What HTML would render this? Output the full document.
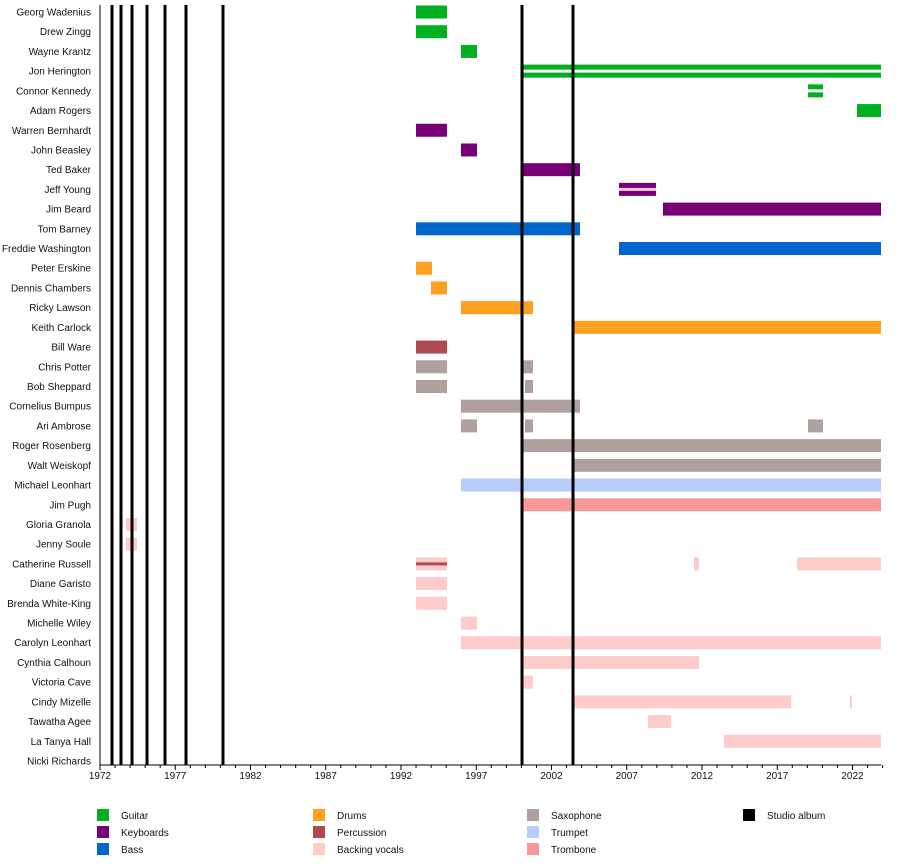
<!DOCTYPE html>
<html><head><meta charset="utf-8"><style>body{margin:0;background:#fff}svg{display:block}text{font-family:"Liberation Sans",sans-serif;font-size:10px;fill:#111}</style></head><body>
<svg width="900" height="865" viewBox="0 0 900 865" xmlns="http://www.w3.org/2000/svg">
<g id="names" text-anchor="end"></g>
<g id="bars"></g>
<g id="lines"></g>
<g id="axis"></g>
<g id="legend"></g>
<script>
var NS="http://www.w3.org/2000/svg";
function el(p,t,a,txt){var e=document.createElementNS(NS,t);for(var k in a)e.setAttribute(k,a[k]);if(txt!=null)e.textContent=txt;document.getElementById(p).appendChild(e);return e;}
var names=["Georg Wadenius","Drew Zingg","Wayne Krantz","Jon Herington","Connor Kennedy","Adam Rogers","Warren Bernhardt","John Beasley","Ted Baker","Jeff Young","Jim Beard","Tom Barney","Freddie Washington","Peter Erskine","Dennis Chambers","Ricky Lawson","Keith Carlock","Bill Ware","Chris Potter","Bob Sheppard","Cornelius Bumpus","Ari Ambrose","Roger Rosenberg","Walt Weiskopf","Michael Leonhart","Jim Pugh","Gloria Granola","Jenny Soule","Catherine Russell","Diane Garisto","Brenda White-King","Michelle Wiley","Carolyn Leonhart","Cynthia Calhoun","Victoria Cave","Cindy Mizelle","Tawatha Agee","La Tanya Hall","Nicki Richards"];
function cy(i){return 12+i*19.71;}
names.forEach(function(n,i){el("names","text",{x:91,y:cy(i)+3.5},n);});
var G="#00b020",K="#770077",B="#0066cc",D="#ffa020",P="#b04850",S="#b0a0a0",T="#b8ccff",TR="#f89898",V="#ffcccc";
var bars=[[0,416,447,G],[1,416,447,G],[2,461,477,G],[3,521,881,G,"#fff"],[4,808,823,G,"#fff"],[5,857,881,G],
[6,416,447,K],[7,461,477,K],[8,521,580,K],[9,619,656,K,V],[10,663,881,K],[11,416,580,B],[12,619,881,B],
[13,416,432,D],[14,431,447,D],[15,461,533,D],[16,574,881,D],[17,416,447,P],
[18,416,447,S],[18,521,533,S],[19,416,447,S],[19,525,533,S],[20,461,580,S],[21,461,477,S],[21,525,533,S],[21,808,823,S],[22,521,881,S],[23,574,881,S],
[24,461,881,T],[25,521,881,TR],[26,126,137,V],[27,126,137,V],[28,416,447,V,P],[28,694,699,V],[28,797,881,V],
[29,416,447,V],[30,416,447,V],[31,461,477,V],[32,461,881,V],[33,521,699,V],[34,521,533,V],[35,574,791,V],[35,850,852,V],[36,648,671,V],[37,724,881,V]];
bars.forEach(function(b){var y=cy(b[0]);el("bars","rect",{x:b[1],y:y-6.5,width:b[2]-b[1],height:13,fill:b[3]});if(b[4])el("bars","rect",{x:b[1],y:y-1.5,width:b[2]-b[1],height:3,fill:b[4]});});
[112,121,132,147,165,186,223,522,573].forEach(function(x){el("lines","rect",{x:x-1.5,y:5,width:3,height:760,fill:"#000"});});
el("axis","rect",{x:99.5,y:5,width:1,height:760,fill:"#000"});
el("axis","rect",{x:100,y:764.5,width:781,height:1,fill:"#000"});
var px=15.05;
for(var yr=1972;yr<=2024;yr++){var x=100+(yr-1972)*px;var maj=(yr-1972)%5==0;el("axis","rect",{x:x-0.5,y:765,width:1,height:maj?5:3,fill:"#000"});if(maj)el("axis","text",{x:x,y:779,"text-anchor":"middle"},yr);}
var leg=[[97,815,G,"Guitar"],[97,832,K,"Keyboards"],[97,849,B,"Bass"],[313,815,D,"Drums"],[313,832,P,"Percussion"],[313,849,V,"Backing vocals"],[527,815,S,"Saxophone"],[527,832,T,"Trumpet"],[527,849,TR,"Trombone"],[743,815,"#000","Studio album"]];
leg.forEach(function(l){el("legend","rect",{x:l[0],y:l[1]-6,width:12,height:12,fill:l[2]});el("legend","text",{x:l[0]+24,y:l[1]+4},l[3]);});
</script>
</svg>
</body></html>
